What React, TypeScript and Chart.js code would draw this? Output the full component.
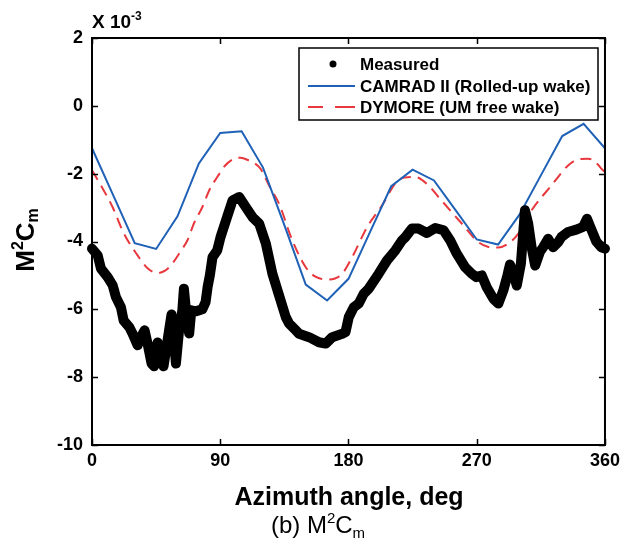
import React, { useEffect, useRef } from 'react';
import { Chart, registerables } from 'chart.js';

Chart.register(...registerables);

const FONT = '"Liberation Sans", Arial, Helvetica, sans-serif';

const xTicks = [0, 90, 180, 270, 360];
const yTicks = [2, 0, -2, -4, -6, -8, -10];

const legendLabels = ['Measured', 'CAMRAD II (Rolled-up wake)', 'DYMORE (UM free wake)'];

const measuredAz = [
  0, 4, 6.3, 11, 14.5, 16.8, 20.3, 22.2, 26.2, 28.5,
  32, 34.3, 36.9, 39, 41.8, 43.6, 46, 48.3, 50.2, 53,
  55.8, 57.6, 58.9, 61.1, 63.4, 64.5, 66.4, 68.2, 69.7, 72.7,
  77.4, 79.7, 81.1, 82.7, 84.6, 87.9, 90.2, 94, 98.6, 103.3,
  108, 112.6, 117.3, 122, 126.6, 131.3, 136, 138.3, 143, 145.3,
  152.3, 159.3, 164, 168.6, 175.6, 177.9, 180.2, 183.7, 187.2, 190.7,
  194.2, 201.2, 207, 212.9, 217.5, 219.9, 224.5, 229.2, 235, 240.9,
  246.7, 251.4, 256, 261.9, 266.5, 269.8, 273.5, 277, 281.7, 285.2,
  288.7, 291.5, 293.3, 295.7, 298.1, 301, 303.8, 306.1, 308.5, 311,
  314.3, 316.6, 320.1, 323.6, 327.1, 329.4, 334.1, 339.9, 344.6, 347.4,
  350.4, 353.9, 357.4, 360,
];
const measuredVal = [
  -4.21, -4.41, -4.8, -5.05, -5.29, -5.64, -5.94, -6.33, -6.53, -6.72,
  -7.06, -6.82, -6.62, -7.01, -7.6, -7.68, -6.98, -7.41, -7.68, -6.92,
  -6.15, -6.92, -7.6, -6.62, -6.03, -5.39, -6.23, -6.71, -6.03, -6.06,
  -6.0, -5.79, -5.35, -5.0, -4.46, -4.26, -3.87, -3.38, -2.79, -2.69,
  -2.99, -3.28, -3.47, -4.06, -4.95, -5.59, -6.23, -6.42, -6.62, -6.72,
  -6.82, -6.97, -7.01, -6.82, -6.72, -6.67, -6.23, -5.94, -5.83, -5.54,
  -5.39, -4.95, -4.56, -4.26, -3.97, -3.87, -3.62, -3.62, -3.75, -3.6,
  -3.67, -3.97, -4.36, -4.76, -4.95, -5.05, -5.0, -5.35, -5.69, -5.83,
  -5.44, -5.0, -4.68, -4.95, -5.3, -4.65, -3.08, -3.47, -4.17, -4.71,
  -4.31, -4.17, -3.92, -4.17, -4.02, -3.87, -3.72, -3.65, -3.57, -3.33,
  -3.64, -4.0, -4.17, -4.21,
];

const camradAz = [0, 15, 30, 45, 60, 75, 90, 105, 120, 135, 150, 165, 180, 195, 210, 225, 240, 255, 270, 285, 300, 315, 330, 345, 360];
const camradVal = [
  -1.25, -2.65, -4.05, -4.22, -3.26, -1.7, -0.8, -0.75, -1.82, -3.52,
  -5.27, -5.74, -5.1, -3.73, -2.37, -1.88, -2.2, -3.07, -3.94, -4.09,
  -3.21, -2.05, -0.89, -0.53, -1.25,
];

const dymoreAz = [
  0, 6.3, 14.5, 22.2, 32, 39, 46, 51.6, 56.4, 61.7,
  66.9, 71.8, 77.4, 82.3, 87.9, 93.5, 99.6, 104, 108.9, 118.2,
  124.3, 131.3, 140.6, 150, 156.5, 165.1, 170.5, 175.6, 182.6, 193,
  203.5, 212.9, 219.4, 226.9, 236.2, 243.2, 259.5, 271.2, 278.2, 285.2,
  292.2, 299.2, 308.5, 322.4, 334.1, 341.1, 348.1, 353, 357.4, 360,
];
const dymoreVal = [
  -1.9, -2.35, -2.99, -3.75, -4.41, -4.79, -4.93, -4.85, -4.65, -4.32,
  -3.97, -3.44, -2.99, -2.49, -2.1, -1.76, -1.56, -1.53, -1.59, -1.85,
  -2.35, -2.89, -3.97, -4.76, -5.03, -5.12, -5.09, -4.95, -4.46, -3.58,
  -2.94, -2.29, -2.11, -2.1, -2.35, -2.69, -3.47, -4.02, -4.16, -4.18,
  -4.06, -3.77, -3.08, -2.35, -1.76, -1.58, -1.56, -1.64, -1.85, -1.96,
];

const BLUE = '#1F61B6';
const RED = '#E8383D';

type Seg = { t: string; size: number; bold: boolean; dy: number };

function font(size: number, bold: boolean) {
  return `${bold ? 'bold ' : ''}${size}px ${FONT}`;
}

function drawRich(ctx: CanvasRenderingContext2D, segs: Seg[], x: number, y: number, align: 'left' | 'center') {
  ctx.textAlign = 'left';
  ctx.textBaseline = 'alphabetic';
  let total = 0;
  const widths = segs.map((s) => {
    ctx.font = font(s.size, s.bold);
    const w = ctx.measureText(s.t).width;
    total += w;
    return w;
  });
  let cx = align === 'center' ? x - total / 2 : x;
  segs.forEach((s, i) => {
    ctx.font = font(s.size, s.bold);
    ctx.fillText(s.t, cx, y + s.dy);
    cx += widths[i];
  });
}

const decorPlugin = {
  id: 'decor',
  beforeDraw(chart: any) {
    const ctx = chart.ctx as CanvasRenderingContext2D;
    ctx.save();
    ctx.fillStyle = '#fff';
    ctx.fillRect(0, 0, chart.width, chart.height);
    ctx.restore();
  },
  afterDatasetsDraw(chart: any) {
    const ctx = chart.ctx as CanvasRenderingContext2D;
    const a = chart.chartArea;
    const xs = chart.scales.x;
    const ys = chart.scales.y;
    ctx.save();
    ctx.strokeStyle = '#000';
    ctx.lineWidth = 1.5;
    const tl = 6;
    ctx.beginPath();
    for (const v of xTicks) {
      const px = Math.round(xs.getPixelForValue(v)) + 0.5;
      ctx.moveTo(px, a.bottom);
      ctx.lineTo(px, a.bottom - tl);
      ctx.moveTo(px, a.top);
      ctx.lineTo(px, a.top + tl);
    }
    for (const v of yTicks) {
      const py = Math.round(ys.getPixelForValue(v)) + 0.5;
      ctx.moveTo(a.left, py);
      ctx.lineTo(a.left + tl, py);
      ctx.moveTo(a.right, py);
      ctx.lineTo(a.right - tl, py);
    }
    ctx.stroke();
    ctx.lineWidth = 2;
    ctx.strokeRect(a.left, a.top, a.right - a.left, a.bottom - a.top);

    // legend
    const lx = 299, ly = 48, lw = 299, lh = 72;
    ctx.fillStyle = '#fff';
    ctx.fillRect(lx, ly, lw, lh);
    ctx.lineWidth = 1.5;
    ctx.strokeStyle = '#000';
    ctx.strokeRect(lx, ly, lw, lh);
    const rows = [64, 86, 107];
    ctx.fillStyle = '#000';
    ctx.beginPath();
    ctx.arc(333, rows[0], 3.5, 0, Math.PI * 2);
    ctx.fill();
    ctx.strokeStyle = BLUE;
    ctx.lineWidth = 2;
    ctx.beginPath();
    ctx.moveTo(308, rows[1]);
    ctx.lineTo(355, rows[1]);
    ctx.stroke();
    ctx.strokeStyle = RED;
    ctx.beginPath();
    ctx.moveTo(308, rows[2]);
    ctx.lineTo(323, rows[2]);
    ctx.moveTo(335, rows[2]);
    ctx.lineTo(355, rows[2]);
    ctx.stroke();
    ctx.fillStyle = '#000';
    ctx.font = font(17, true);
    ctx.textAlign = 'left';
    ctx.textBaseline = 'middle';
    legendLabels.forEach((t, i) => ctx.fillText(t, 360, rows[i] + 1));

    // exponent label
    ctx.fillStyle = '#000';
    drawRich(ctx, [
      { t: 'X 10', size: 19, bold: true, dy: 0 },
      { t: '-3', size: 12, bold: true, dy: -8 },
    ], 92, 28, 'left');

    // y title
    ctx.save();
    ctx.translate(34, 240);
    ctx.rotate(-Math.PI / 2);
    drawRich(ctx, [
      { t: 'M', size: 26, bold: true, dy: 0 },
      { t: '2', size: 16, bold: true, dy: -11 },
      { t: 'C', size: 26, bold: true, dy: 0 },
      { t: 'm', size: 16, bold: true, dy: 4 },
    ], 0, 0, 'center');
    ctx.restore();

    // x title
    drawRich(ctx, [{ t: 'Azimuth angle, deg', size: 25, bold: true, dy: 0 }], 349, 505, 'center');

    // caption
    drawRich(ctx, [
      { t: '(b) M', size: 24, bold: false, dy: 0 },
      { t: '2', size: 15, bold: false, dy: -10 },
      { t: 'C', size: 24, bold: false, dy: 0 },
      { t: 'm', size: 15, bold: false, dy: 5 },
    ], 318, 533, 'center');
    ctx.restore();
  },
};

export default function App() {
  const ref = useRef<HTMLCanvasElement | null>(null);
  useEffect(() => {
    if (!ref.current) return;
    const chart = new Chart(ref.current, {
      type: 'line',
      data: {
        datasets: [
          {
            label: legendLabels[0],
            data: measuredAz.map((x, i) => ({ x, y: measuredVal[i] })),
            borderColor: '#000',
            backgroundColor: '#000',
            borderWidth: 10,
            pointRadius: 0,
            borderJoinStyle: 'round',
            borderCapStyle: 'round',
            tension: 0,
            clip: 8,
          } as any,
          {
            label: legendLabels[1],
            data: camradAz.map((x, i) => ({ x, y: camradVal[i] })),
            borderColor: BLUE,
            borderWidth: 2,
            pointRadius: 0,
            tension: 0,
          },
          {
            label: legendLabels[2],
            data: dymoreAz.map((x, i) => ({ x, y: dymoreVal[i] })),
            borderColor: RED,
            borderWidth: 2,
            borderDash: [11, 7],
            pointRadius: 0,
            cubicInterpolationMode: 'monotone',
          },
        ],
      },
      options: {
        responsive: false,
        animation: false,
        devicePixelRatio: 1,
        layout: { padding: { top: 38, right: 18, left: 0, bottom: 0 } },
        plugins: { legend: { display: false }, tooltip: { enabled: false } },
        scales: {
          x: {
            type: 'linear',
            min: 0,
            max: 360,
            afterFit: (s: any) => { s.height = 103; },
            afterBuildTicks: (s: any) => { s.ticks = xTicks.map((v) => ({ value: v })); },
            grid: { display: false, drawTicks: false },
            border: { display: false },
            ticks: { color: '#000', font: { family: FONT, size: 18, weight: 'bold' }, padding: 5, maxRotation: 0 },
          },
          y: {
            type: 'linear',
            min: -10,
            max: 2,
            afterFit: (s: any) => { s.width = 92; },
            afterBuildTicks: (s: any) => { s.ticks = yTicks.map((v) => ({ value: v })); },
            grid: { display: false, drawTicks: false },
            border: { display: false },
            ticks: { color: '#000', font: { family: FONT, size: 18, weight: 'bold' }, padding: 9 },
          },
        },
      } as any,
      plugins: [decorPlugin],
    });
    return () => chart.destroy();
  }, []);
  return (
    <div style={{ position: 'absolute', left: 0, top: 0, width: 625, height: 548 }}>
      <canvas ref={ref} width={625} height={548} style={{ width: 625, height: 548 }} />
    </div>
  );
}
